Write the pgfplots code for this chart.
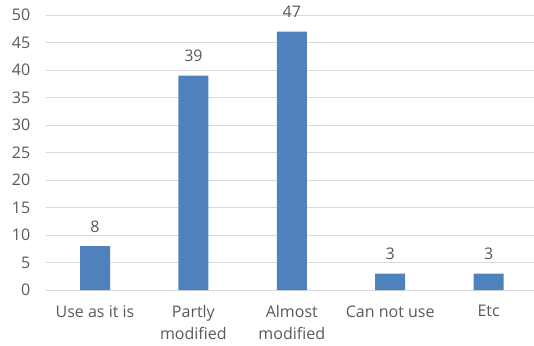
\documentclass[border=0pt]{standalone}
\usepackage{fontspec}
\setmainfont{Open Sans}
\usepackage{pgfplots}
\pgfplotsset{compat=1.18}
\definecolor{barblue}{RGB}{79,129,189}
\definecolor{txtgray}{RGB}{89,89,89}
\definecolor{gridgray}{RGB}{217,217,217}
\begin{document}
\begin{tikzpicture}
\path[use as bounding box] (-45.8pt,-55pt) rectangle (488.2pt,290pt);
\begin{axis}[
  scale only axis,
  width=492pt, height=275pt,
  xmin=-0.5, xmax=4.5, ymin=0, ymax=50,
  ytick={0,5,...,50},
  xtick={0,1,2,3,4},
  xticklabels={Use as it is, Partly\\modified, Almost\\modified, Can not use, Etc},
  axis x line*=bottom, axis y line*=left,
  x axis line style={draw=gridgray, line width=0.8pt, -},
  y axis line style={draw=none},
  major tick length=0pt,
  ymajorgrids,
  grid style={draw=gridgray, line width=0.8pt},
  /pgf/number format/assume math mode=true,
  every tick label/.append style={font=\fontsize{16}{21.5}\selectfont, text=txtgray},
  xticklabel style={align=center, yshift=-12pt},
  yticklabel style={xshift=-12pt},
  ybar, bar width=30pt,
  clip=false,
  nodes near coords,
  nodes near coords style={font=\fontsize{16}{19}\selectfont, text=txtgray, anchor=south, yshift=10pt},
]
\addplot[fill=barblue, draw=none] coordinates {(0,8) (1,39) (2,47) (3,3) (4,3)};
\end{axis}
\end{tikzpicture}
\end{document}
